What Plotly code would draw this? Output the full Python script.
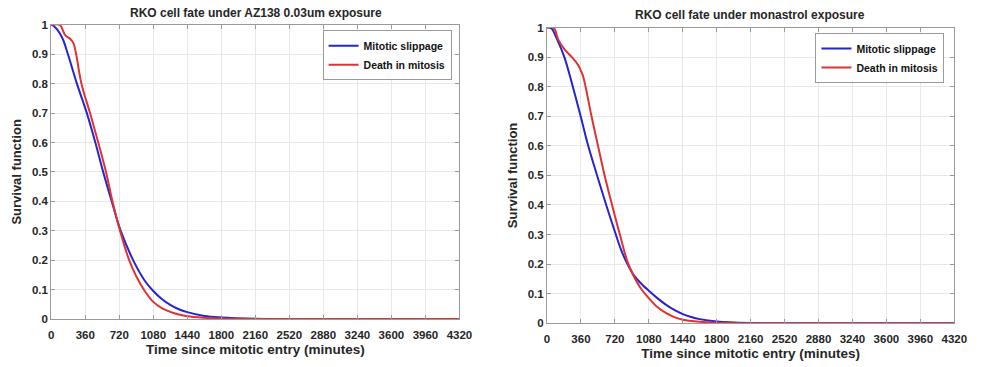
import plotly.graph_objects as go

# ---- data ----
xticks = [0, 360, 720, 1080, 1440, 1800, 2160, 2520, 2880, 3240, 3600, 3960, 4320]
yticks = [0, 0.1, 0.2, 0.3, 0.4, 0.5, 0.6, 0.7, 0.8, 0.9, 1]
yticklabels = ["0", "0.1", "0.2", "0.3", "0.4", "0.5", "0.6", "0.7", "0.8", "0.9", "1"]

# AZ138 0.03um panel
az_slip_t = [0, 30, 114, 177, 272, 377, 467, 550, 640, 735, 867, 990, 1080, 1170, 1260, 1350, 1440, 1620, 1800, 2160, 2520, 4320]
az_slip_s = [1, 0.995, 0.958, 0.9, 0.8, 0.7, 0.6, 0.5, 0.4, 0.3, 0.2, 0.13, 0.095, 0.068, 0.048, 0.033, 0.023, 0.01, 0.005, 0.001, 0, 0]

az_death_t = [0, 90, 149, 200, 236, 264, 320, 411, 498, 580, 648, 728, 825, 900, 990, 1080, 1170, 1260, 1350, 1440, 1620, 1800, 2160, 4320]
az_death_s = [1, 1, 0.964, 0.953, 0.937, 0.9, 0.8, 0.7, 0.6, 0.5, 0.4, 0.3, 0.2, 0.145, 0.095, 0.058, 0.037, 0.024, 0.015, 0.009, 0.004, 0.0015, 0, 0]

# monastrol panel
mon_slip_t = [0, 45, 107, 184, 274, 357, 437, 531, 628, 730, 790, 853, 920, 990, 1080, 1170, 1260, 1350, 1440, 1530, 1620, 1800, 2160, 2520, 4320]
mon_slip_s = [1, 0.998, 0.96, 0.9, 0.8, 0.7, 0.6, 0.5, 0.4, 0.3, 0.245, 0.2, 0.163, 0.137, 0.11, 0.085, 0.063, 0.045, 0.031, 0.021, 0.014, 0.006, 0.001, 0, 0]

mon_death_t = [0, 70, 118, 184, 264, 333, 378, 409, 472, 541, 611, 690, 773, 863, 990, 1080, 1170, 1260, 1350, 1440, 1620, 1800, 2160, 4320]
mon_death_s = [1, 1, 0.96, 0.927, 0.9, 0.872, 0.84, 0.8, 0.7, 0.6, 0.5, 0.4, 0.3, 0.2, 0.12, 0.085, 0.055, 0.035, 0.021, 0.012, 0.005, 0.002, 0, 0]

titles = ["RKO cell fate under AZ138 0.03um exposure", "RKO cell fate under monastrol exposure"]
names = ["Mitotic slippage", "Death in mitosis"]
x_title = "Time since mitotic entry (minutes)"
y_title = "Survival function"

BLUE = "#2424d2"
RED = "#e03232"
FONT = "Liberation Sans"
TXT = "#262626"
AX = "#9a9a9a"

fig = go.Figure()

def add(t, s, name, color, xa, ya, legend):
    fig.add_trace(go.Scatter(x=t, y=s, mode="lines", name="<b>" + name + "</b>",
                             line=dict(color=color, width=2, shape="spline", smoothing=1.0),
                             xaxis=xa, yaxis=ya, legend=legend))

add(az_slip_t, az_slip_s, names[0], BLUE, "x", "y", "legend")
add(az_death_t, az_death_s, names[1], RED, "x", "y", "legend")
add(mon_slip_t, mon_slip_s, names[0], BLUE, "x2", "y2", "legend2")
add(mon_death_t, mon_death_s, names[1], RED, "x2", "y2", "legend2")

W, H = 984, 367

def xaxis(dom, anchor):
    return dict(domain=dom, anchor=anchor, range=[0, 4320], tickvals=xticks,
                ticktext=["<b>%d</b>" % v for v in xticks],
                showgrid=True, gridcolor="#e8e8e8", gridwidth=1, zeroline=False,
                showline=True, linecolor=AX, linewidth=1, mirror="ticks",
                ticks="inside", ticklen=4, tickcolor=AX, ticklabelstandoff=5,
                tickfont=dict(family=FONT, size=11.5, color=TXT),
                title=dict(text="<b>" + x_title + "</b>", standoff=4,
                           font=dict(family=FONT, size=13.5, color=TXT)))

def yaxis(dom, anchor):
    return dict(domain=dom, anchor=anchor, range=[0, 1], tickvals=yticks,
                ticktext=["<b>%s</b>" % s for s in yticklabels],
                showgrid=True, gridcolor="#e8e8e8", gridwidth=1, zeroline=False,
                showline=True, linecolor=AX, linewidth=1, mirror="ticks",
                ticks="inside", ticklen=4, tickcolor=AX,
                tickfont=dict(family=FONT, size=11.5, color=TXT),
                title=dict(text="<b>" + y_title + "</b>", standoff=7,
                           font=dict(family=FONT, size=13, color=TXT)))

legend_common = dict(bgcolor="white", bordercolor=AX, borderwidth=1,
                     font=dict(family=FONT, size=10.5, color="#111111"),
                     xanchor="right", yanchor="top", tracegroupgap=0, itemwidth=30)

fig.update_layout(
    width=W, height=H, margin=dict(l=0, r=0, t=0, b=0),
    paper_bgcolor="white", plot_bgcolor="white",
    xaxis=xaxis([49 / W, 464 / W], "y"),
    yaxis=yaxis([1 - 323.5 / H, 1 - 19.5 / H], "x"),
    xaxis2=xaxis([553 / W, 967 / W], "y2"),
    yaxis2=yaxis([1 - 328 / H, 1 - 22.3 / H], "x2"),
    legend=dict(x=456 / W, y=1 - 25 / H, **legend_common),
    legend2=dict(x=957 / W, y=1 - 28 / H, **legend_common),
    annotations=[
        dict(text="<b>" + titles[0] + "</b>", x=257 / W, y=1 - 7 / H, xref="paper", yref="paper",
             showarrow=False, xanchor="center", yanchor="middle",
             font=dict(family=FONT, size=12, color=TXT)),
        dict(text="<b>" + titles[1] + "</b>", x=759 / W, y=1 - 9 / H, xref="paper", yref="paper",
             showarrow=False, xanchor="center", yanchor="middle",
             font=dict(family=FONT, size=12, color=TXT)),
    ],
)

fig.write_html("out.html")
